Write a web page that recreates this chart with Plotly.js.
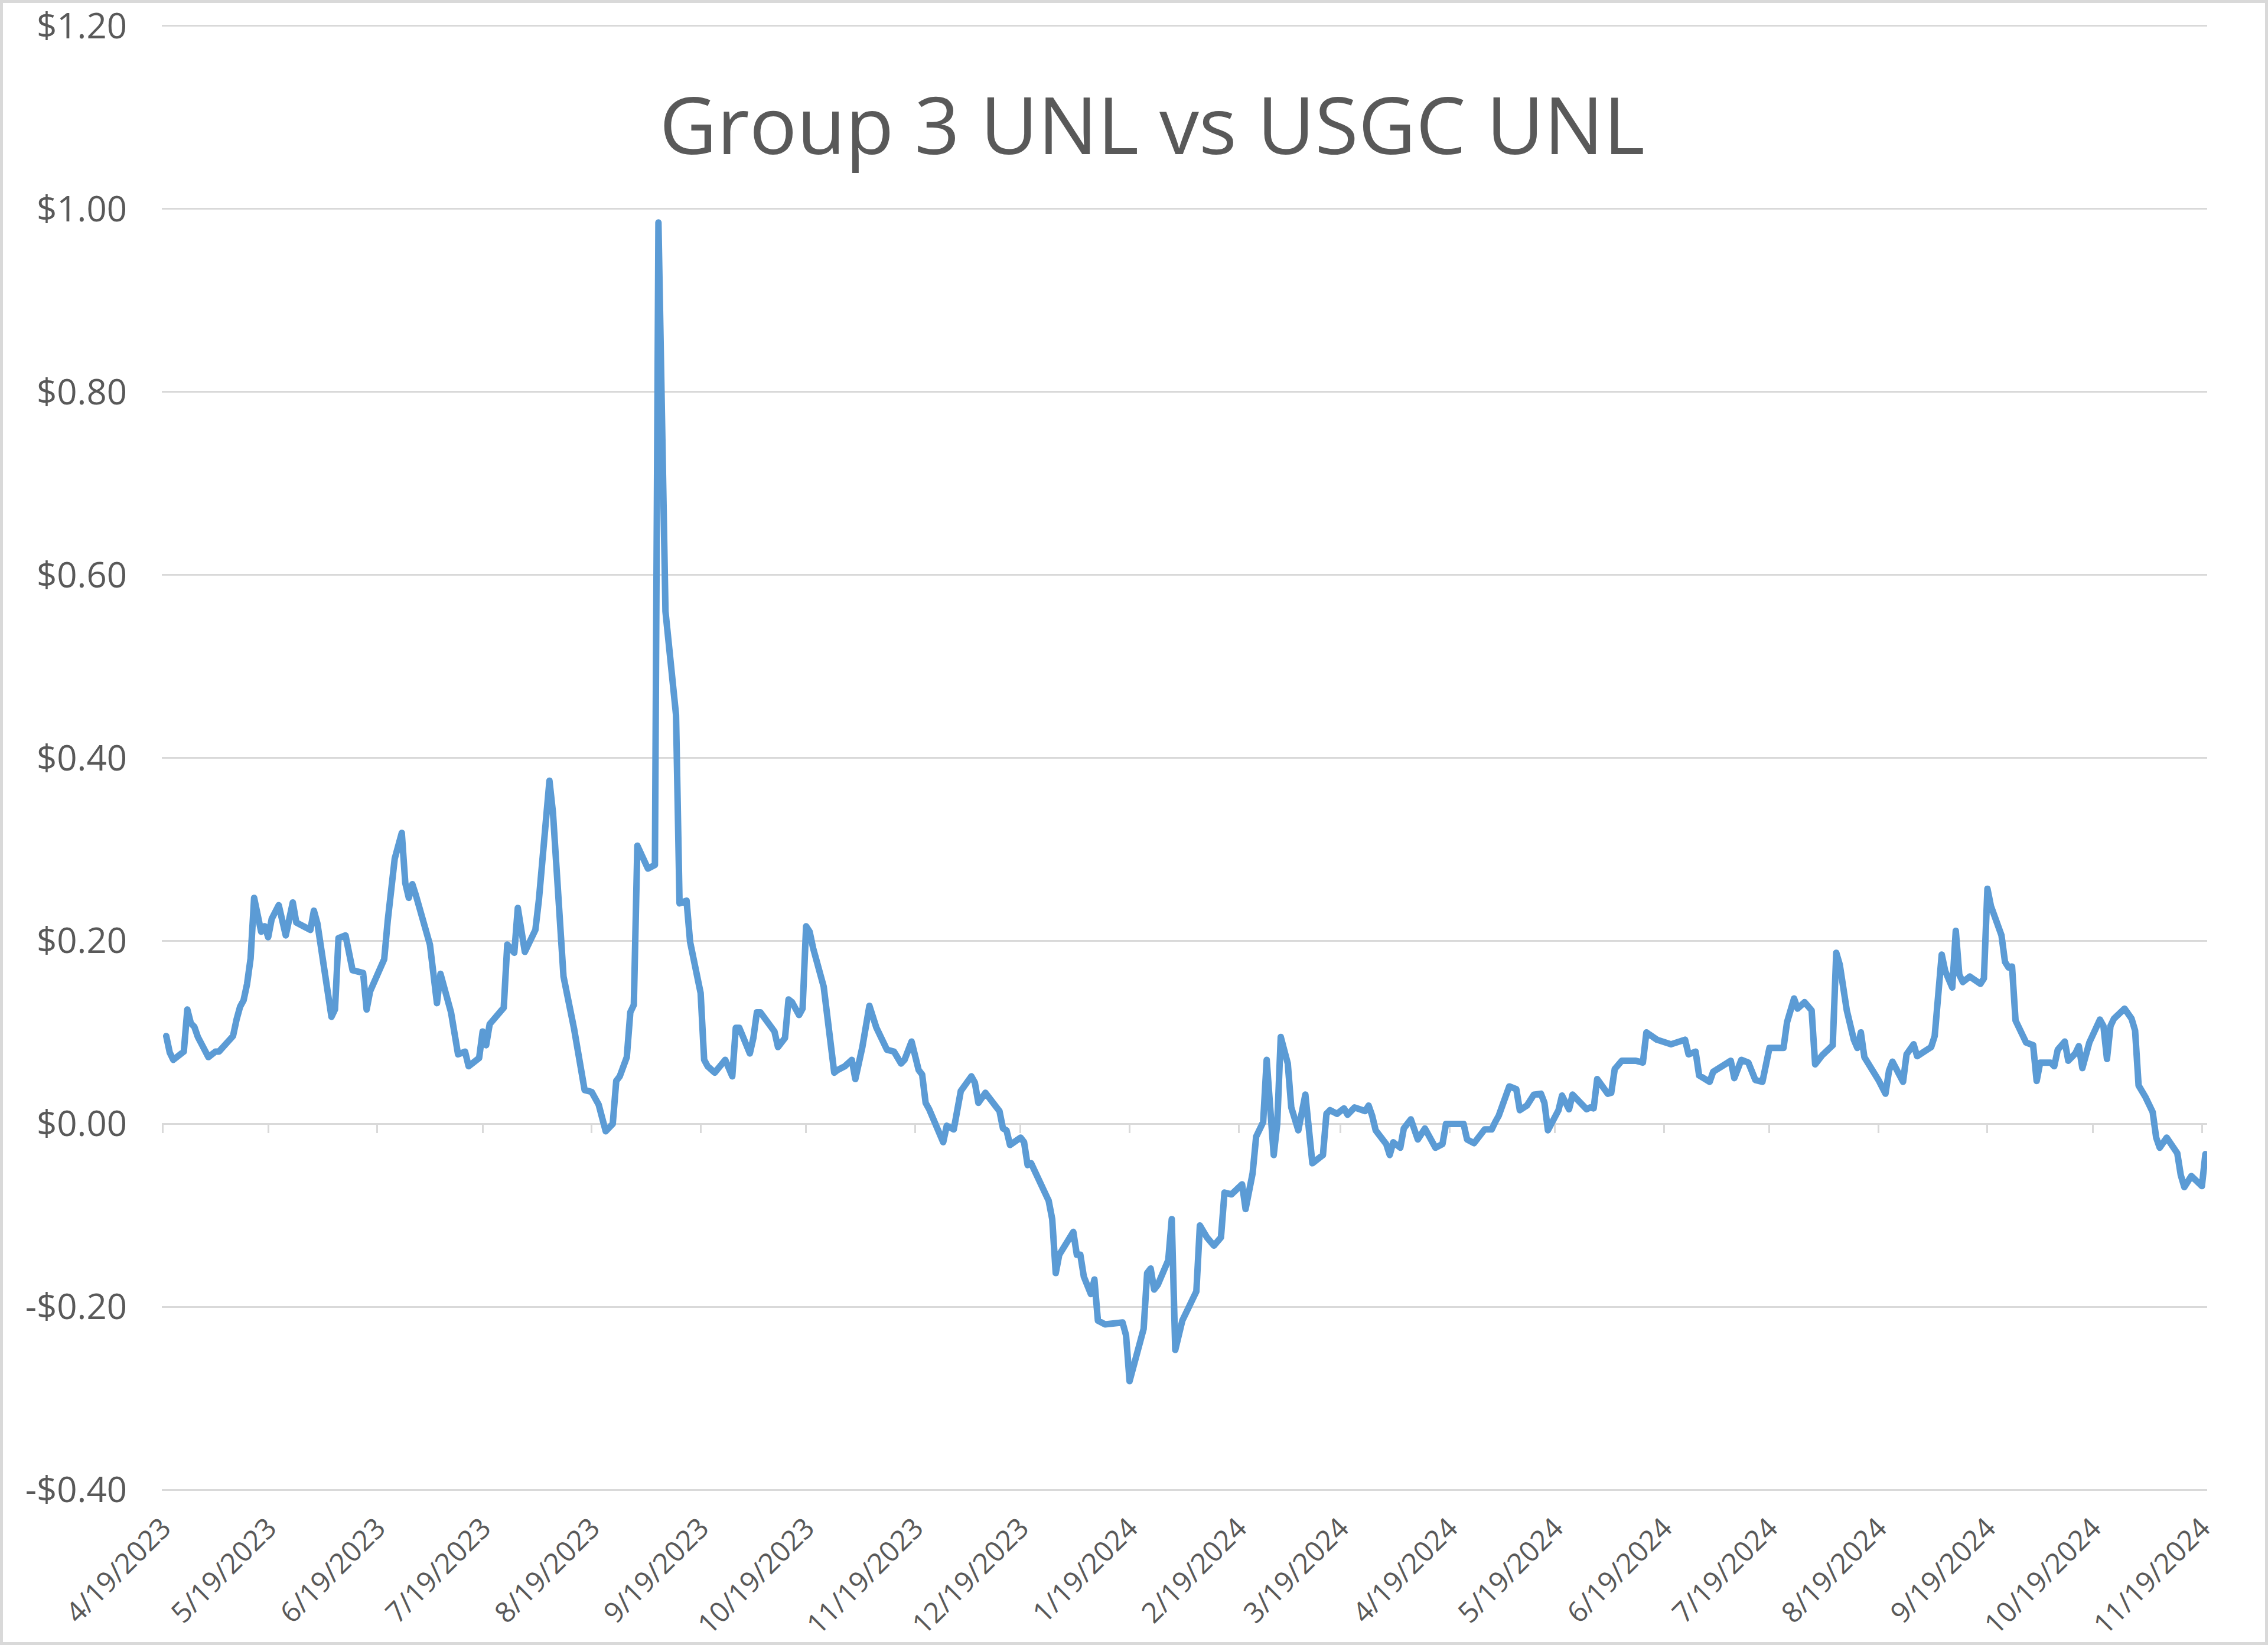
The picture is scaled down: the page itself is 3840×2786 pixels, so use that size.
<!DOCTYPE html>
<html>
<head>
<meta charset="utf-8">
<script src="https://cdn.plot.ly/plotly-3.0.1.min.js"></script>
<style>
  html, body { margin: 0; padding: 0; background: #ffffff; }
  #wrap { position: relative; width: 3840px; height: 2786px; }
  #chart { position: absolute; left: 0; top: 0; width: 3840px; height: 2786px; }
  #frame { position: absolute; left: 0; top: 0; width: 3840px; height: 2786px;
           box-sizing: border-box; border: 5px solid #d9d9d9; pointer-events: none; }
  path.js-line { stroke-linejoin: round; stroke-linecap: round; }
</style>
</head>
<body>
<div id="wrap"><div id="chart"></div><div id="frame"></div></div>
<script>
const chartTitle = 'Group 3 UNL vs USGC UNL';

const dates = [
  '2023-04-20','2023-04-21','2023-04-22','2023-04-25','2023-04-26','2023-04-27','2023-04-28','2023-04-29',
  '2023-05-02','2023-05-04','2023-05-05','2023-05-09','2023-05-10','2023-05-11','2023-05-12','2023-05-13','2023-05-14','2023-05-15','2023-05-17','2023-05-18','2023-05-19','2023-05-20','2023-05-22','2023-05-24','2023-05-26','2023-05-27','2023-05-31',
  '2023-06-01','2023-06-02','2023-06-06','2023-06-07','2023-06-08','2023-06-10','2023-06-12','2023-06-15','2023-06-16','2023-06-17','2023-06-21','2023-06-22','2023-06-24','2023-06-26','2023-06-27','2023-06-28','2023-06-29','2023-06-30',
  '2023-07-04','2023-07-06','2023-07-07','2023-07-10','2023-07-12','2023-07-14','2023-07-15','2023-07-18','2023-07-19','2023-07-20','2023-07-21','2023-07-25','2023-07-26','2023-07-28','2023-07-29','2023-07-31',
  '2023-08-03','2023-08-04','2023-08-07','2023-08-08','2023-08-10','2023-08-11','2023-08-14','2023-08-15','2023-08-17','2023-08-19','2023-08-21','2023-08-23','2023-08-25','2023-08-26','2023-08-27','2023-08-29','2023-08-30','2023-08-31',
  '2023-09-01','2023-09-04','2023-09-06','2023-09-07','2023-09-09','2023-09-12','2023-09-13','2023-09-15','2023-09-16','2023-09-19','2023-09-20','2023-09-21','2023-09-23','2023-09-26','2023-09-28','2023-09-29','2023-09-30',
  '2023-10-03','2023-10-04','2023-10-05','2023-10-06','2023-10-10','2023-10-11','2023-10-13','2023-10-14','2023-10-15','2023-10-17','2023-10-18','2023-10-19','2023-10-20','2023-10-21','2023-10-24','2023-10-26','2023-10-27','2023-10-28','2023-10-30',
  '2023-11-01','2023-11-02','2023-11-04','2023-11-06','2023-11-08','2023-11-10','2023-11-11','2023-11-13','2023-11-15','2023-11-16','2023-11-18','2023-11-20','2023-11-21','2023-11-22','2023-11-23','2023-11-27','2023-11-28','2023-11-30',
  '2023-12-02','2023-12-05','2023-12-06','2023-12-07','2023-12-09','2023-12-13','2023-12-14','2023-12-15','2023-12-16','2023-12-19','2023-12-20','2023-12-21','2023-12-22','2023-12-27','2023-12-28','2023-12-29','2023-12-30',
  '2024-01-03','2024-01-04','2024-01-05','2024-01-06','2024-01-08','2024-01-09','2024-01-10','2024-01-12','2024-01-17','2024-01-18','2024-01-19','2024-01-23','2024-01-24','2024-01-25','2024-01-26','2024-01-27','2024-01-30','2024-01-31',
  '2024-02-01','2024-02-03','2024-02-07','2024-02-08','2024-02-10','2024-02-12','2024-02-14','2024-02-15','2024-02-17','2024-02-20','2024-02-21','2024-02-23','2024-02-24','2024-02-26','2024-02-27','2024-02-29',
  '2024-03-01','2024-03-02','2024-03-04','2024-03-05','2024-03-07','2024-03-09','2024-03-11','2024-03-14','2024-03-15','2024-03-16','2024-03-18','2024-03-20','2024-03-21','2024-03-23','2024-03-26','2024-03-27','2024-03-28','2024-03-29',
  '2024-04-01','2024-04-02','2024-04-03','2024-04-05','2024-04-06','2024-04-08','2024-04-10','2024-04-12','2024-04-15','2024-04-17','2024-04-18','2024-04-20','2024-04-23','2024-04-24','2024-04-26','2024-04-29',
  '2024-05-01','2024-05-02','2024-05-03','2024-05-06','2024-05-08','2024-05-09','2024-05-11','2024-05-13','2024-05-15','2024-05-16','2024-05-17','2024-05-20','2024-05-21','2024-05-23','2024-05-24','2024-05-28','2024-05-29','2024-05-30','2024-05-31',
  '2024-06-03','2024-06-04','2024-06-05','2024-06-07','2024-06-11','2024-06-13','2024-06-14','2024-06-15','2024-06-17','2024-06-21','2024-06-25','2024-06-26','2024-06-28','2024-06-29',
  '2024-07-02','2024-07-03','2024-07-08','2024-07-09','2024-07-11','2024-07-13','2024-07-15','2024-07-17','2024-07-19','2024-07-23','2024-07-24','2024-07-26','2024-07-27','2024-07-29','2024-07-31',
  '2024-08-01','2024-08-03','2024-08-06','2024-08-07','2024-08-08','2024-08-10','2024-08-12','2024-08-13','2024-08-14','2024-08-15','2024-08-19','2024-08-21','2024-08-22','2024-08-23','2024-08-26','2024-08-27','2024-08-29','2024-08-30',
  '2024-09-03','2024-09-04','2024-09-06','2024-09-07','2024-09-09','2024-09-10','2024-09-11','2024-09-12','2024-09-14','2024-09-17','2024-09-18','2024-09-19','2024-09-20','2024-09-23','2024-09-24','2024-09-25','2024-09-26','2024-09-27','2024-09-30',
  '2024-10-02','2024-10-03','2024-10-04','2024-10-07','2024-10-08','2024-10-09','2024-10-11','2024-10-12','2024-10-14','2024-10-15','2024-10-16','2024-10-18','2024-10-21','2024-10-22','2024-10-23','2024-10-24','2024-10-25','2024-10-28','2024-10-30','2024-10-31',
  '2024-11-01','2024-11-03','2024-11-05','2024-11-06','2024-11-07','2024-11-09','2024-11-12','2024-11-13','2024-11-14','2024-11-16','2024-11-19','2024-11-20'
];

const spread = [
  0.096,0.078,0.070,0.079,0.125,0.110,0.106,0.095,
  0.073,0.079,0.079,0.096,0.114,0.128,0.135,0.153,0.181,0.247,0.210,0.216,0.204,0.224,0.239,0.206,0.242,0.220,0.212,
  0.233,0.219,0.117,0.125,0.203,0.206,0.168,0.165,0.125,0.145,0.180,0.222,0.290,0.318,0.263,0.247,0.262,0.250,
  0.196,0.132,0.164,0.122,0.076,0.079,0.063,0.072,0.101,0.086,0.109,0.127,0.196,0.187,0.236,0.188,
  0.212,0.245,0.375,0.340,0.222,0.161,0.104,0.079,0.037,0.035,0.021,-0.008,0.000,0.047,0.052,0.073,0.122,0.130,
  0.304,0.279,0.283,0.985,0.560,0.447,0.241,0.244,0.199,0.143,0.070,0.063,0.056,0.070,0.052,0.105,0.105,
  0.077,0.094,0.122,0.122,0.101,0.084,0.094,0.136,0.133,0.119,0.126,0.216,0.210,0.192,0.150,0.080,0.056,0.059,0.063,
  0.070,0.049,0.084,0.129,0.105,0.090,0.081,0.079,0.066,0.070,0.090,0.059,0.054,0.023,0.016,-0.020,-0.002,-0.006,
  0.036,0.052,0.045,0.023,0.034,0.014,-0.005,-0.007,-0.023,-0.015,-0.020,-0.045,-0.043,-0.084,-0.104,-0.163,-0.143,
  -0.118,-0.143,-0.143,-0.167,-0.186,-0.170,-0.215,-0.219,-0.217,-0.231,-0.281,-0.224,-0.163,-0.158,-0.181,-0.176,-0.149,-0.104,
  -0.247,-0.215,-0.183,-0.111,-0.124,-0.133,-0.124,-0.075,-0.077,-0.066,-0.093,-0.054,-0.014,0.002,0.070,-0.034,
  0.000,0.095,0.066,0.018,-0.007,0.032,-0.043,-0.034,0.011,0.015,0.011,0.017,0.010,0.018,0.014,0.020,0.009,-0.007,
  -0.022,-0.034,-0.020,-0.026,-0.005,0.005,-0.017,-0.005,-0.026,-0.022,0.000,0.000,0.000,-0.017,-0.021,-0.006,
  -0.006,0.002,0.009,0.041,0.038,0.015,0.020,0.032,0.033,0.023,-0.007,0.015,0.031,0.016,0.032,0.016,0.018,0.017,0.049,
  0.033,0.034,0.060,0.069,0.069,0.067,0.100,0.098,0.092,0.087,0.092,0.076,0.079,0.053,
  0.046,0.057,0.069,0.050,0.070,0.067,0.048,0.046,0.083,0.083,0.111,0.137,0.126,0.133,0.124,
  0.065,0.075,0.086,0.187,0.174,0.124,0.092,0.083,0.100,0.073,0.048,0.033,0.058,0.068,0.046,0.076,0.087,0.074,
  0.084,0.096,0.185,0.167,0.149,0.211,0.163,0.155,0.161,0.153,0.159,0.257,0.238,0.206,0.177,0.171,0.172,0.113,0.089,
  0.086,0.047,0.067,0.067,0.063,0.081,0.090,0.069,0.077,0.085,0.061,0.089,0.114,0.107,0.071,0.107,0.115,0.126,0.115,0.102,
  0.042,0.029,0.013,-0.015,-0.026,-0.015,-0.032,-0.056,-0.069,-0.057,-0.068,-0.033
];

const xTickDates = ['2023-04-19','2023-05-19','2023-06-19','2023-07-19','2023-08-19','2023-09-19','2023-10-19',
  '2023-11-19','2023-12-19','2024-01-19','2024-02-19','2024-03-19','2024-04-19','2024-05-19','2024-06-19',
  '2024-07-19','2024-08-19','2024-09-19','2024-10-19','2024-11-19'];
const xTickLabels = ['4/19/2023','5/19/2023','6/19/2023','7/19/2023','8/19/2023','9/19/2023','10/19/2023',
  '11/19/2023','12/19/2023','1/19/2024','2/19/2024','3/19/2024','4/19/2024','5/19/2024','6/19/2024',
  '7/19/2024','8/19/2024','9/19/2024','10/19/2024','11/19/2024'];
const yTickValues = [-0.4,-0.2,0,0.2,0.4,0.6,0.8,1.0,1.2];
const yTickLabels = ['-$0.40','-$0.20','$0.00','$0.20','$0.40','$0.60','$0.80','$1.00','$1.20'];

const FONT = 'Open Sans, Noto Sans, sans-serif';
const xRange = ['2023-04-18 18:00', '2024-11-20 12:00'];

const traces = [
  { type: 'scatter', mode: 'lines', x: dates, y: spread, xaxis: 'x', yaxis: 'y',
    line: { color: '#5B9BD5', width: 11 }, hoverinfo: 'x+y', showlegend: false },
  { type: 'scatter', mode: 'lines', x: dates, y: spread, xaxis: 'x2', yaxis: 'y',
    line: { color: 'rgba(0,0,0,0)', width: 0 }, opacity: 0, hoverinfo: 'skip', showlegend: false }
];

const layout = {
  width: 3840, height: 2786,
  margin: { l: 274, r: 103, t: 42, b: 261, pad: 0 },
  paper_bgcolor: '#ffffff', plot_bgcolor: '#ffffff',
  showlegend: false,
  title: { text: chartTitle, font: { family: FONT, size: 134, color: '#595959' },
           x: 0.508, xref: 'container', xanchor: 'center',
           y: 1 - 214 / 2786, yref: 'container', yanchor: 'middle' },
  xaxis: { type: 'date', range: xRange, tickmode: 'array', tickvals: xTickDates, ticktext: xTickLabels,
           tickangle: -45, showgrid: false, zeroline: false, showline: false, ticks: '',
           ticklabelstandoff: 24,
           tickfont: { family: FONT, size: 48, color: '#595959' } },
  xaxis2: { type: 'date', range: xRange, overlaying: 'x', anchor: 'free', position: 0.25, side: 'bottom',
            tickmode: 'array', tickvals: xTickDates, ticks: 'outside', ticklen: 14, tickwidth: 3,
            tickcolor: '#d9d9d9', showticklabels: false, showgrid: false, zeroline: false, showline: false,
            layer: 'below traces' },
  yaxis: { range: [-0.401, 1.201], tickmode: 'array', tickvals: yTickValues, ticktext: yTickLabels,
           showgrid: true, gridcolor: '#d9d9d9', gridwidth: 3, zeroline: false, showline: false, ticks: '',
           ticklabelstandoff: 58,
           tickfont: { family: FONT, size: 60, color: '#595959' } }
};

Plotly.newPlot('chart', traces, layout, { displayModeBar: false, staticPlot: true });
</script>
</body>
</html>
